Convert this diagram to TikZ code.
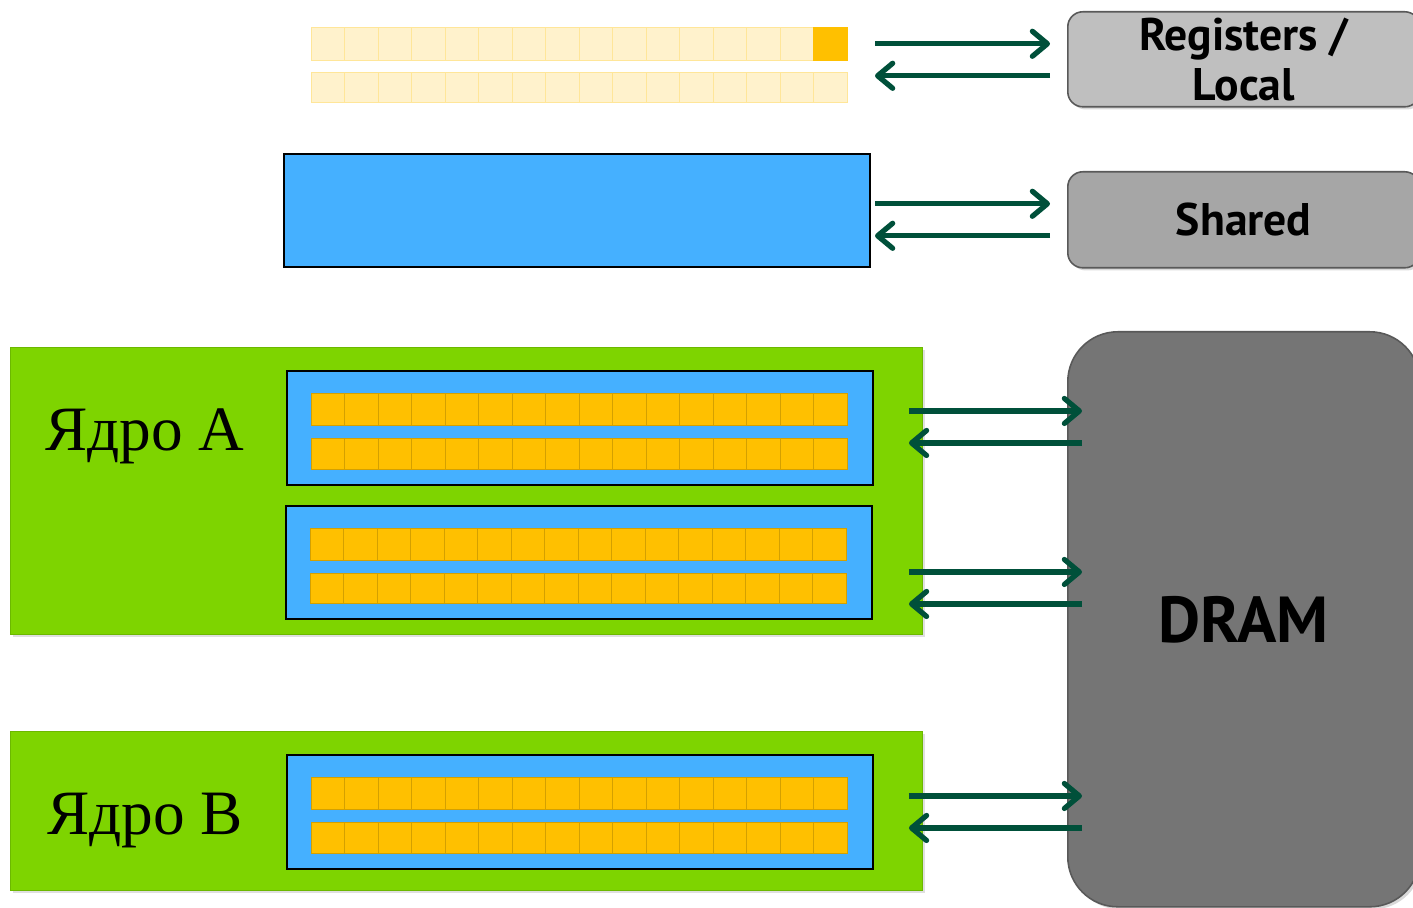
\documentclass[tikz,border=0pt]{standalone}
\usepackage{fontspec}
\setmainfont{Liberation Serif}
\newfontfamily\labelfont{PT Sans}
\usetikzlibrary{arrows.meta,calc,shadows}

\definecolor{coreGreen}{HTML}{7ED400}
\definecolor{coreEdge}{HTML}{6CB800}
\definecolor{blkBlue}{HTML}{45B0FF}
\definecolor{cellFill}{HTML}{FFC000}
\definecolor{cellEdge}{HTML}{D4A000}
\definecolor{ghostFill}{HTML}{FFF2CC}
\definecolor{ghostEdge}{HTML}{FFE699}
\definecolor{flowGreen}{HTML}{00503A}
\definecolor{memEdge}{HTML}{595959}

\newcommand\pxu{0.02cm}

\begin{document}
\begin{tikzpicture}[x=0.02cm,y=-0.02cm,
	cell/.style={draw=cellEdge, fill=cellFill, line width=0.5pt},
	ghost/.style={draw=ghostEdge, fill=ghostFill, line width=0.5pt},
	blk/.style={draw=black, fill=blkBlue, line width=1.1pt, inner sep=0pt, anchor=north west},
	core/.style={draw=coreEdge, fill=coreGreen, line width=0.8pt, inner sep=0pt, anchor=north west,
		drop shadow={opacity=0.25, shadow xshift=1.5pt, shadow yshift=-1.5pt}},
	mem/.style={draw=memEdge, line width=0.9pt, inner sep=0pt, anchor=north west, align=center,
		font=\labelfont\bfseries\fontsize{26}{28.5}\selectfont,
		drop shadow={opacity=0.3, shadow xshift=1.5pt, shadow yshift=-1.5pt}},
	corename/.style={anchor=base, font=\fontsize{36}{40}\selectfont},
	flow/.style={draw=flowGreen, line width=3pt, -{Straight Barb[length=0.3cm, width=0.5cm, round]}}
	]
	\useasboundingbox (0,0) rectangle (1413,908);
	\clip (0,0) rectangle (1413,908);
	%=========== registers, top ===========================
	\foreach \i in {0,...,15} {
		\draw[ghost] (311+\i*33.5,27) rectangle ++(33.5,33);
		\draw[ghost] (311+\i*33.5,72) rectangle ++(33.5,30);
	}
	\draw[cell, draw=cellFill] (813.5,27) rectangle ++(33.5,33);
	\node[blk, minimum width=586*\pxu, minimum height=113*\pxu] (shmem) at (283,153) {};
	%=========== memory boxes, right ===========================
	\node[mem, fill=gray!50, rounded corners=0.3cm, minimum width=352*\pxu, minimum height=95*\pxu] (regs) at (1067,11) {Registers /\\Local};
	\node[mem, fill=gray!70, rounded corners=0.3cm, minimum width=352*\pxu, minimum height=96*\pxu] (shrd) at (1067,171) {Shared};
	\node[mem, fill=black!54, rounded corners=1cm, minimum width=352*\pxu, minimum height=575*\pxu,
		font=\labelfont\bfseries\fontsize{37}{40}\selectfont] (dram) at (1067,331) {DRAM};
	%=========== cores, left ===========================
	\node[core, minimum width=912*\pxu, minimum height=287*\pxu] (coreA) at (10,347) {};
	\node[core, minimum width=912*\pxu, minimum height=159*\pxu] (coreB) at (10,731) {};
	\node[corename] (nameA) at (145,451) {Ядро A};
	\node[corename] (nameB) at (145,834) {Ядро B};
	\node[blk, minimum width=586*\pxu, minimum height=114*\pxu] (blkA1) at (286,370) {};
	\node[blk, minimum width=586*\pxu, minimum height=113*\pxu] (blkA2) at (285,505) {};
	\node[blk, minimum width=586*\pxu, minimum height=114*\pxu] (blkB) at (286,754) {};
	\foreach \i in {0,...,15} {
		\draw[cell] (311+\i*33.5,393) rectangle ++(33.5,32);
		\draw[cell] (311+\i*33.5,438) rectangle ++(33.5,31);
		\draw[cell] (310+\i*33.5,528) rectangle ++(33.5,32);
		\draw[cell] (310+\i*33.5,573) rectangle ++(33.5,30);
		\draw[cell] (311+\i*33.5,777) rectangle ++(33.5,32);
		\draw[cell] (311+\i*33.5,822) rectangle ++(33.5,31);
	}
	%=========== arrows ===========================
	\draw[flow] ($(regs.west)+(-192,-15.5)$) -- ($(regs.west)+(-17,-15.5)$);
	\draw[flow] ($(regs.west)+(-17,16.5)$) -- ($(regs.west)+(-192,16.5)$);
	\draw[flow] ($(shrd.west)+(-192,-16)$) -- ($(shrd.west)+(-17,-16)$);
	\draw[flow] ($(shrd.west)+(-17,16)$) -- ($(shrd.west)+(-192,16)$);
	\draw[flow] ($(blkA1.east)+(35,-17)$) -- ($(blkA1.east -| dram.west)+(15,-17)$);
	\draw[flow] ($(blkA1.east -| dram.west)+(15,15)$) -- ($(blkA1.east)+(35,15)$);
	\draw[flow] ($(blkA2.east)+(36,9.5)$) -- ($(blkA2.east -| dram.west)+(15,9.5)$);
	\draw[flow] ($(blkA2.east -| dram.west)+(15,41.5)$) -- ($(blkA2.east)+(36,41.5)$);
	\draw[flow] ($(blkB.east)+(35,-16)$) -- ($(blkB.east -| dram.west)+(15,-16)$);
	\draw[flow] ($(blkB.east -| dram.west)+(15,16)$) -- ($(blkB.east)+(35,16)$);
\end{tikzpicture}
\end{document}
